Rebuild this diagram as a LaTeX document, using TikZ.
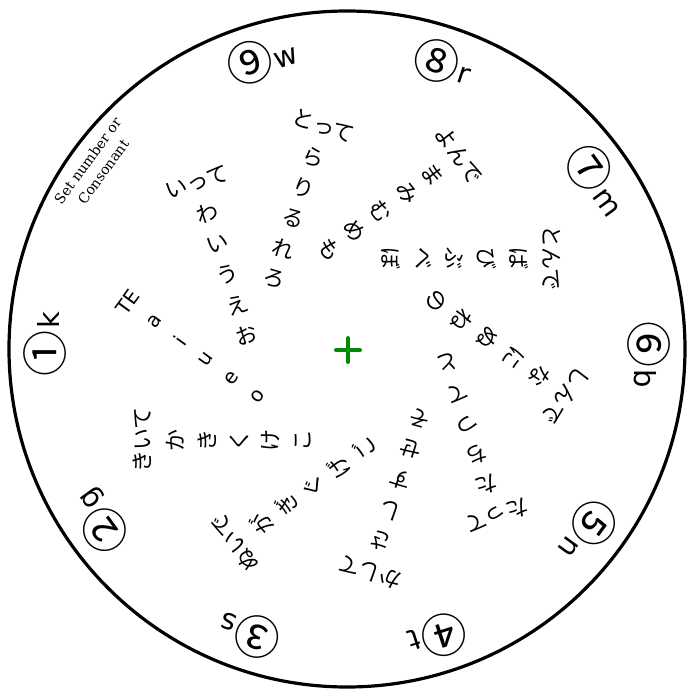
\documentclass[tikz,border=0pt]{standalone}
\usepackage{fontspec}
\newfontfamily\kanafont{Noto Sans CJK JP}
\newfontfamily\latinfont{DejaVu Sans}
\newfontfamily\notefont{DejaVu Serif}
\definecolor{hubgreen}{RGB}{0,140,0}
\tikzset{
  kana/.style={font=\kanafont\fontsize{22}{22}\selectfont, inner sep=0pt},
  roman/.style={font=\latinfont\fontsize{20}{20}\selectfont, inner sep=0pt},
  digit/.style={font=\kanafont\fontsize{46}{46}\selectfont, inner sep=0pt},
  rim/.style={font=\latinfont\fontsize{29}{29}\selectfont, inner sep=0pt},
  note/.style={font=\notefont\fontsize{14}{19}\selectfont, align=center, inner sep=0pt}
}

\begin{document}
\begin{tikzpicture}[x=1pt,y=1pt]
  \useasboundingbox (-347,-340) rectangle (341,349);
  \coordinate (hub) at (0,0);
  \draw[line width=3.2pt] (hub) circle (338);
  % centre mark
  \draw[hubgreen,line width=4pt,line cap=round] (-11,-1) -- (13,-1) (1,-13) -- (1,11);
  % rim: set number and consonant
  \foreach \n/\d/\l in {1/①/k, 2/②/g, 3/③/s, 4/④/t, 5/⑤/n, 6/⑥/b, 7/⑦/m, 8/⑧/r, 9/⑨/w}{
    \pgfmathsetmacro\t{180+36*(\n-1)}
    \node[digit,rotate=\t-90] (num\n) at (\t+0.8:302) {\d};
    \node[rim,rotate=\t-90,anchor=base west,xshift=1.5pt,yshift=3pt] (con\n) at (num\n.base east) {\l};
  }
  \node[note,rotate=54] (setnote) at (144:311) {Set number or\\Consonant};
  % one row of kana for each set
  \foreach \k/\sty/\word/\chars in {0/roman/TE/{a,i,u,e,o},
      1/kana/きいて/{か,き,く,け,こ}, 2/kana/ぬいで/{が,ぎ,ぐ,げ,ご},
      3/kana/かして/{さ,し,す,せ,そ}, 4/kana/たって/{た,ち,つ,て,と},
      5/kana/しんで/{な,に,ぬ,ね,の}, 6/kana/とんで/{ば,び,ぶ,べ,ぼ},
      7/kana/よんで/{ま,み,む,め,も}, 8/kana/とって/{ら,り,る,れ,ろ},
      9/kana/いって/{わ,い,う,え,お}}{
    \begin{scope}[rotate=54+36*\k,transform shape]
      \node[\sty] (word\k) at (-91,205) {\word};
      \foreach \c [count=\i from 0] in \chars
        \node[\sty] (row\k-\i) at (-91,172-32*\i) {\c};
    \end{scope}
  }
\end{tikzpicture}
\end{document}
